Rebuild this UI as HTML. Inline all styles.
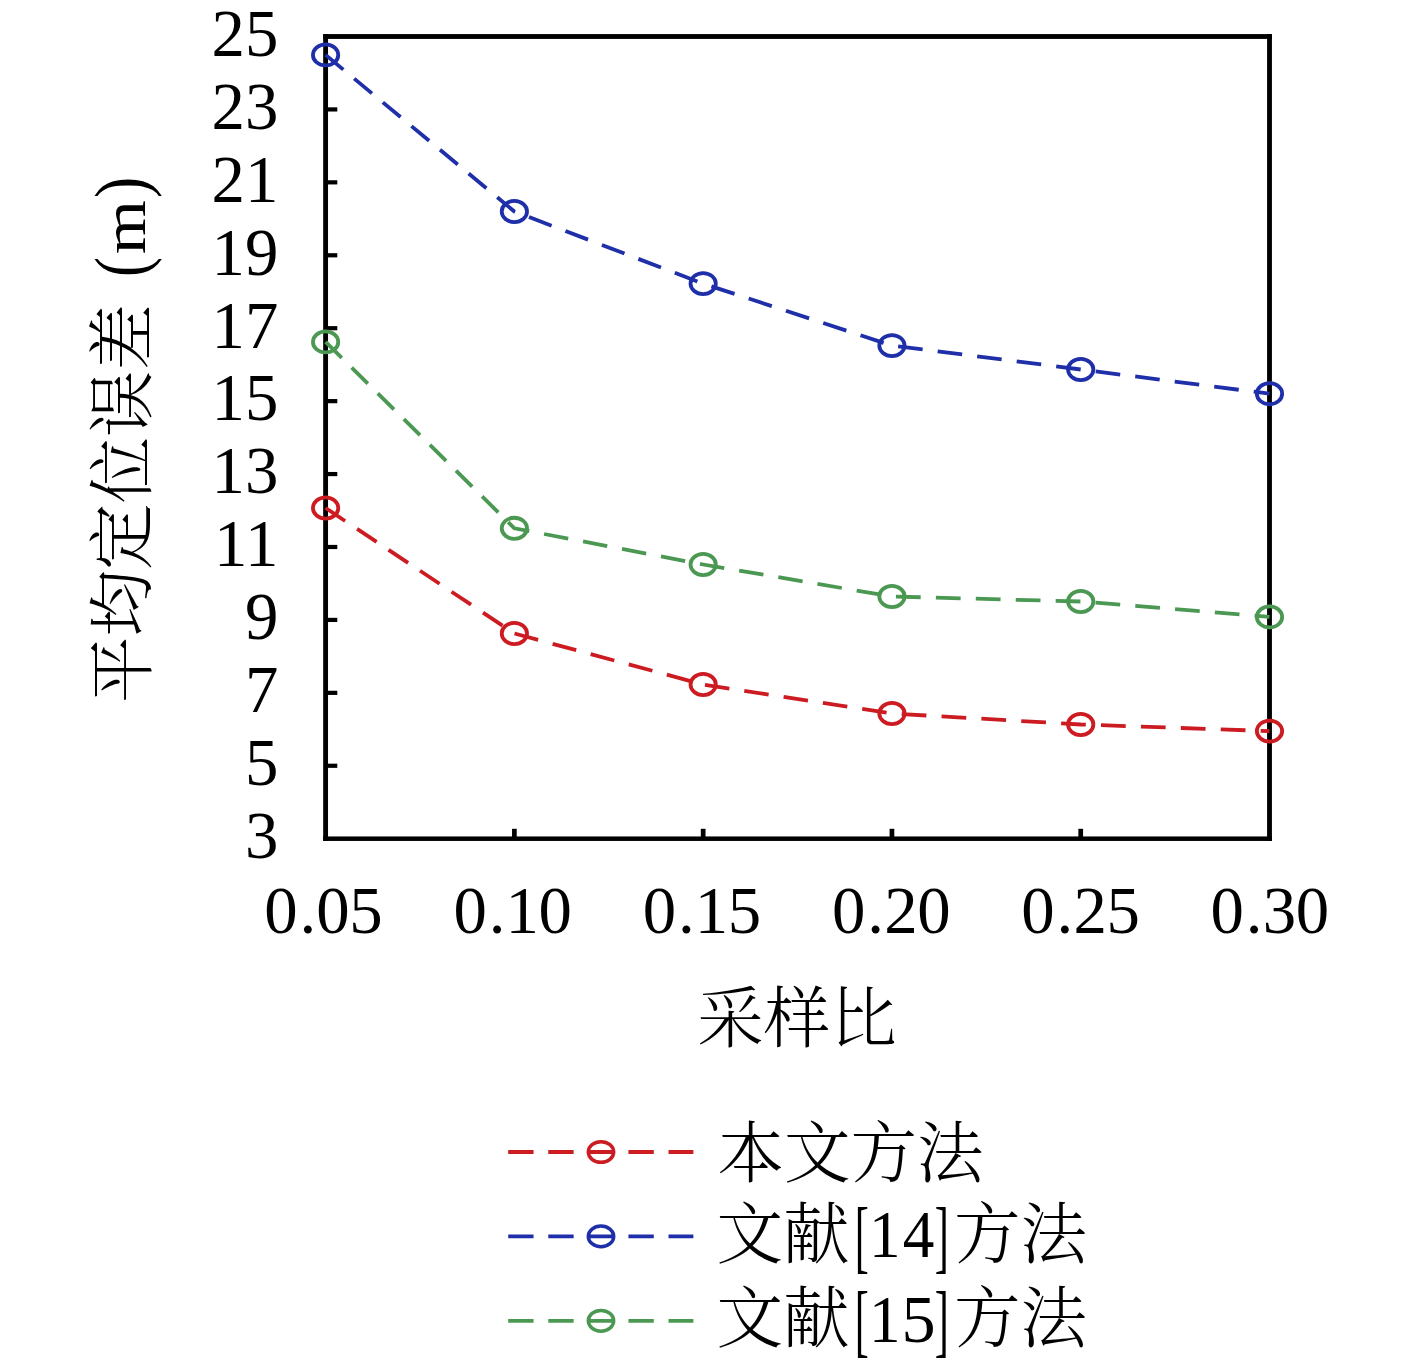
<!DOCTYPE html>
<html lang="zh"><head><meta charset="utf-8"><title>采样比 - 平均定位误差</title>
<style>html,body{margin:0;padding:0;background:#fff}body{width:1417px;height:1358px;overflow:hidden}svg{display:block}</style>
</head><body>
<svg width="1417" height="1358" viewBox="0 0 1417 1358">
<rect x="0" y="0" width="1417" height="1358" fill="#fff"/>
<g fill="#000">
<rect x="323.18" y="34.08" width="4.85" height="806.87"/>
<rect x="1267.08" y="34.08" width="4.85" height="806.87"/>
<rect x="323.18" y="34.08" width="948.75" height="4.85"/>
<rect x="323.18" y="836.45" width="948.75" height="4.5"/>
<rect x="325.60" y="107.33" width="11.7" height="4.2"/>
<rect x="325.60" y="180.25" width="11.7" height="4.2"/>
<rect x="325.60" y="253.18" width="11.7" height="4.2"/>
<rect x="325.60" y="326.11" width="11.7" height="4.2"/>
<rect x="325.60" y="399.04" width="11.7" height="4.2"/>
<rect x="325.60" y="471.96" width="11.7" height="4.2"/>
<rect x="325.60" y="544.89" width="11.7" height="4.2"/>
<rect x="325.60" y="617.82" width="11.7" height="4.2"/>
<rect x="325.60" y="690.75" width="11.7" height="4.2"/>
<rect x="325.60" y="763.67" width="11.7" height="4.2"/>
<rect x="512.03" y="828.80" width="4.7" height="9.9"/>
<rect x="700.81" y="828.80" width="4.7" height="9.9"/>
<rect x="889.59" y="828.80" width="4.7" height="9.9"/>
<rect x="1078.37" y="828.80" width="4.7" height="9.9"/>
</g>
<g fill="none" stroke="#1e2fa9"><ellipse cx="325.60" cy="54.90" rx="12.65" ry="10.55" stroke-width="3.8"/><ellipse cx="514.38" cy="211.50" rx="12.65" ry="10.55" stroke-width="3.8"/><ellipse cx="703.16" cy="283.60" rx="12.65" ry="10.55" stroke-width="3.8"/><ellipse cx="891.94" cy="345.60" rx="12.65" ry="10.55" stroke-width="3.8"/><ellipse cx="1080.72" cy="369.50" rx="12.65" ry="10.55" stroke-width="3.8"/><ellipse cx="1269.50" cy="393.70" rx="12.65" ry="10.55" stroke-width="3.8"/><path d="M325.60 54.90 L343.34 69.61 M354.21 78.63 L371.95 93.35 M382.82 102.36 L400.55 117.08 M411.43 126.10 L429.16 140.81 M440.03 149.83 L457.77 164.54 M468.64 173.56 L486.38 188.27 M497.25 197.29 L514.38 211.50 L515.15 211.80 M529.00 217.09 L551.60 225.72 M565.45 231.01 L588.05 239.64 M601.90 244.93 L624.50 253.56 M638.35 258.85 L660.95 267.48 M674.80 272.77 L697.39 281.40 M711.43 286.32 L734.54 293.90 M748.70 298.56 L771.81 306.15 M785.97 310.80 L809.08 318.39 M823.24 323.04 L846.35 330.63 M860.51 335.28 L883.62 342.87 M898.13 346.38 L922.63 349.49 M937.65 351.39 L962.15 354.49 M977.17 356.39 L1001.66 359.49 M1016.68 361.39 L1041.18 364.49 M1056.20 366.40 L1080.70 369.50 M1095.71 371.42 L1120.20 374.56 M1135.21 376.49 L1159.70 379.63 M1174.72 381.55 L1199.21 384.69 M1214.22 386.61 L1238.71 389.75 M1253.72 391.68 L1269.50 393.70" stroke-width="3.8" stroke-linejoin="miter"/></g>
<g fill="none" stroke="#4b9852"><ellipse cx="325.60" cy="341.90" rx="12.65" ry="10.55" stroke-width="3.8"/><ellipse cx="514.38" cy="528.30" rx="12.65" ry="10.55" stroke-width="3.8"/><ellipse cx="703.16" cy="564.50" rx="12.65" ry="10.55" stroke-width="3.8"/><ellipse cx="891.94" cy="596.50" rx="12.65" ry="10.55" stroke-width="3.8"/><ellipse cx="1080.72" cy="601.50" rx="12.65" ry="10.55" stroke-width="3.8"/><ellipse cx="1269.50" cy="616.90" rx="12.65" ry="10.55" stroke-width="3.8"/><path d="M325.60 341.90 L341.77 357.87 M351.68 367.65 L367.85 383.62 M377.77 393.41 L393.94 409.37 M403.85 419.16 L420.02 435.13 M429.93 444.91 L446.10 460.88 M456.01 470.67 L472.18 486.64 M482.10 496.42 L498.27 512.39 M508.18 522.18 L514.38 528.30 L529.28 531.16 M544.09 534.00 L568.25 538.63 M583.06 541.47 L607.22 546.10 M622.03 548.94 L646.19 553.58 M661.00 556.42 L685.17 561.05 M699.98 563.89 L703.16 564.50 L724.25 568.08 M739.14 570.60 L763.43 574.72 M778.32 577.24 L802.61 581.36 M817.50 583.88 L841.79 588.00 M856.68 590.52 L880.97 594.64 M895.94 596.61 L920.69 597.26 M935.87 597.66 L960.63 598.32 M975.80 598.72 L1000.56 599.38 M1015.73 599.78 L1040.49 600.43 M1055.66 600.84 L1080.42 601.49 M1095.53 602.71 L1120.19 604.72 M1135.30 605.95 L1159.95 607.96 M1175.07 609.20 L1199.72 611.21 M1214.83 612.44 L1239.49 614.45 M1254.60 615.68 L1269.50 616.90" stroke-width="3.8" stroke-linejoin="miter"/></g>
<g fill="none" stroke="#cc1c22"><ellipse cx="325.60" cy="508.00" rx="12.65" ry="10.55" stroke-width="3.8"/><ellipse cx="514.38" cy="633.50" rx="12.65" ry="10.55" stroke-width="3.8"/><ellipse cx="703.16" cy="684.50" rx="12.65" ry="10.55" stroke-width="3.8"/><ellipse cx="891.94" cy="713.50" rx="12.65" ry="10.55" stroke-width="3.8"/><ellipse cx="1080.72" cy="724.50" rx="12.65" ry="10.55" stroke-width="3.8"/><ellipse cx="1269.50" cy="731.10" rx="12.65" ry="10.55" stroke-width="3.8"/><path d="M325.60 508.00 L345.12 520.98 M357.08 528.93 L376.60 541.91 M388.57 549.86 L408.09 562.84 M420.05 570.79 L439.57 583.77 M451.53 591.72 L471.05 604.70 M483.02 612.65 L502.54 625.63 M514.53 633.54 L538.13 639.92 M552.60 643.83 L576.21 650.20 M590.68 654.11 L614.29 660.49 M628.76 664.40 L652.37 670.78 M666.84 674.69 L690.44 681.06 M704.97 684.78 L729.35 688.52 M744.28 690.82 L768.66 694.56 M783.60 696.86 L807.97 700.60 M822.91 702.90 L847.29 706.64 M862.23 708.94 L886.60 712.68 M901.68 714.07 L926.39 715.51 M941.53 716.39 L966.24 717.83 M981.39 718.71 L1006.10 720.15 M1021.25 721.03 L1045.96 722.47 M1061.10 723.36 L1080.72 724.50 L1085.82 724.68 M1100.99 725.21 L1125.74 726.07 M1140.91 726.60 L1165.65 727.47 M1180.82 728.00 L1205.57 728.86 M1220.74 729.40 L1245.49 730.26 M1260.66 730.79 L1269.50 731.10" stroke-width="3.8" stroke-linejoin="miter"/></g>
<g fill="none" stroke="#cc1c22"><ellipse cx="601.0" cy="1152.0" rx="12.7" ry="10.35" stroke-width="3.5"/><path d="M508.20 1152.00 L533.55 1152.00 M548.28 1152.00 L573.63 1152.00 M588.36 1152.00 L613.71 1152.00 M628.44 1152.00 L653.79 1152.00 M668.52 1152.00 L693.40 1152.00" stroke-width="3.8"/></g>
<g fill="none" stroke="#1e2fa9"><ellipse cx="601.0" cy="1236.4" rx="12.7" ry="10.35" stroke-width="3.5"/><path d="M508.20 1236.40 L533.55 1236.40 M548.28 1236.40 L573.63 1236.40 M588.36 1236.40 L613.71 1236.40 M628.44 1236.40 L653.79 1236.40 M668.52 1236.40 L693.40 1236.40" stroke-width="3.8"/></g>
<g fill="none" stroke="#4b9852"><ellipse cx="601.0" cy="1320.8" rx="12.7" ry="10.35" stroke-width="3.5"/><path d="M508.20 1320.80 L533.55 1320.80 M548.28 1320.80 L573.63 1320.80 M588.36 1320.80 L613.71 1320.80 M628.44 1320.80 L653.79 1320.80 M668.52 1320.80 L693.40 1320.80" stroke-width="3.8"/></g>
<g font-family="'Liberation Serif', 'Noto Serif CJK SC', serif" font-size="66.8px" fill="#000">
<text x="278.3" y="55.80" text-anchor="end">25</text>
<text x="278.3" y="128.73" text-anchor="end">23</text>
<text x="278.3" y="201.65" text-anchor="end">21</text>
<text x="278.3" y="274.58" text-anchor="end">19</text>
<text x="278.3" y="347.51" text-anchor="end">17</text>
<text x="278.3" y="420.44" text-anchor="end">15</text>
<text x="278.3" y="493.36" text-anchor="end">13</text>
<text x="278.3" y="566.29" text-anchor="end">11</text>
<text x="278.3" y="639.22" text-anchor="end">9</text>
<text x="278.3" y="712.15" text-anchor="end">7</text>
<text x="278.3" y="785.07" text-anchor="end">5</text>
<text x="278.3" y="858.00" text-anchor="end">3</text>
<text x="264.15 299.45 316.35 349.35" y="932.6">0.05</text>
<text x="453.41 488.71 505.61 538.61" y="932.6">0.10</text>
<text x="642.67 677.97 694.87 727.87" y="932.6">0.15</text>
<text x="831.93 867.23 884.13 917.13" y="932.6">0.20</text>
<text x="1021.19 1056.49 1073.39 1106.39" y="932.6">0.25</text>
<text x="1210.45 1245.75 1262.65 1295.65" y="932.6">0.30</text>
</g>
<g font-family="'Liberation Serif', 'Noto Serif CJK SC', serif" font-size="66.5px" font-weight="300" fill="#000">
<text x="797" y="1042" text-anchor="middle">采样比</text>
<text transform="translate(145.3 703) rotate(-90)"><tspan x="0" y="0.7">平均定位误差 </tspan><tspan font-size="74.00px" font-weight="400" x="425.97" y="0.75" textLength="19.97" lengthAdjust="spacingAndGlyphs">(</tspan><tspan font-size="61.33px" font-weight="400" x="448.74" y="0.00" textLength="54.15" lengthAdjust="spacingAndGlyphs">m</tspan><tspan font-size="74.00px" font-weight="400" x="504.94" y="0.75" textLength="21.26" lengthAdjust="spacingAndGlyphs">)</tspan></text>
<text x="717.5" y="1177.40">本文方法</text>
<text x="716.5" y="1257.70">文献<tspan font-size="80.59px" font-weight="400" x="854.67" y="1263.22" textLength="14.06" lengthAdjust="spacingAndGlyphs">[</tspan><tspan font-size="67.26px" font-weight="400" x="869.06" y="1257.40" textLength="31.53" lengthAdjust="spacingAndGlyphs">1</tspan><tspan font-size="67.30px" font-weight="400" x="902.76" y="1257.40" textLength="31.62" lengthAdjust="spacingAndGlyphs">4</tspan><tspan font-size="80.59px" font-weight="400" x="934.77" y="1263.22" textLength="14.06" lengthAdjust="spacingAndGlyphs">]</tspan><tspan x="954.0" y="1257.70">方法</tspan></text>
<text x="716.5" y="1341.90">文献<tspan font-size="80.59px" font-weight="400" x="854.67" y="1347.42" textLength="14.06" lengthAdjust="spacingAndGlyphs">[</tspan><tspan font-size="67.26px" font-weight="400" x="869.06" y="1341.60" textLength="31.53" lengthAdjust="spacingAndGlyphs">1</tspan><tspan font-size="67.26px" font-weight="400" x="901.43" y="1341.64" textLength="34.13" lengthAdjust="spacingAndGlyphs">5</tspan><tspan font-size="80.59px" font-weight="400" x="934.77" y="1347.42" textLength="14.06" lengthAdjust="spacingAndGlyphs">]</tspan><tspan x="954.0" y="1341.90">方法</tspan></text>
</g>
</svg>
</body></html>
